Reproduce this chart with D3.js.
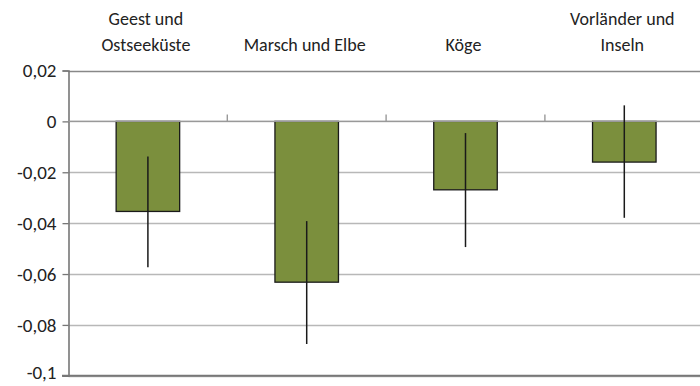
<!DOCTYPE html>
<html><head><meta charset="utf-8">
<script src="https://cdn.jsdelivr.net/npm/d3@7"></script>
<style>body{margin:0;background:#fff}svg{display:block}</style>
</head><body>
<script>
const categories = [["Geest und","Ostseeküste"],["Marsch und Elbe"],["Köge"],["Vorländer und","Inseln"]];
const values = [-0.0354, -0.0632, -0.0269, -0.0160];
const errLow = [-0.0573, -0.0875, -0.0494, -0.0379];
const errHigh = [-0.0138, -0.0392, -0.0046, 0.0063];
const yTicks = [0.02, 0, -0.02, -0.04, -0.06, -0.08, -0.1];
const yTickLabels = ["0,02", "0", "-0,02", "-0,04", "-0,06", "-0,08", "-0,1"];

const W = 700, H = 386;
const svg = d3.select("body").append("svg").attr("width", W).attr("height", H);
const font = "Carlito, Lato, 'Open Sans', sans-serif";

const y = d3.scaleLinear().domain([-0.1, 0.02]).range([375.8, 70.5]);
const x = d3.scaleBand().domain(d3.range(categories.length)).range([68.5, 703.7]).padding(0);

// gridlines
svg.append("g").selectAll("line").data(yTicks).join("line")
  .attr("x1", 68.5).attr("x2", W)
  .attr("y1", d => Math.round(y(d)) + 0.5).attr("y2", d => Math.round(y(d)) + 0.5)
  .attr("stroke", d => (d === 0.02 ? "#888" : "#b8b8b8")).attr("stroke-width", d => d === 0.02 ? 1.6 : 1.3);

// y axis
const yAxis = d3.axisLeft(y).tickValues(yTicks).tickSize(6).tickPadding(6)
  .tickFormat((d, i) => yTickLabels[i]);
const ga = svg.append("g").attr("transform", "translate(68.5,0)").call(yAxis);
ga.select(".domain").attr("stroke", "#777").attr("stroke-width", 1.6);
ga.selectAll(".tick line").attr("stroke", "#777").attr("stroke-width", 1.3);
ga.selectAll(".tick text").attr("font-family", font).attr("font-size", 19).attr("fill", "#222")
  .attr("dy", d => d === -0.1 ? "0.12em" : "0.32em");

// bottom axis line
svg.append("line").attr("x1", 62).attr("x2", W).attr("y1", y(-0.1)).attr("y2", y(-0.1))
  .attr("stroke", "#777").attr("stroke-width", 2);

// bars
const bw = x.bandwidth() * 0.4;
svg.append("g").selectAll("rect").data(values).join("rect")
  .attr("x", (d, i) => x(i) + x.bandwidth()/2 - bw/2)
  .attr("y", y(0))
  .attr("width", bw)
  .attr("height", d => y(d) - y(0))
  .attr("fill", "#7b8f3d").attr("stroke", "#1a1a1a").attr("stroke-width", 1.3);

// zero category axis line with upward ticks
svg.append("line").attr("x1", 68.5).attr("x2", W).attr("y1", y(0)).attr("y2", y(0))
  .attr("stroke", "#999").attr("stroke-width", 1.4);
svg.append("g").selectAll("line").data(d3.range(1, categories.length)).join("line")
  .attr("x1", i => x(i)).attr("x2", i => x(i))
  .attr("y1", y(0)).attr("y2", y(0) - 7)
  .attr("stroke", "#999").attr("stroke-width", 1.4);

// error bars
svg.append("g").selectAll("line").data(values).join("line")
  .attr("x1", (d, i) => x(i) + x.bandwidth()/2).attr("x2", (d, i) => x(i) + x.bandwidth()/2)
  .attr("y1", (d, i) => y(errHigh[i])).attr("y2", (d, i) => y(errLow[i]))
  .attr("stroke", "#1a1a1a").attr("stroke-width", 1.5);

// category labels at top
const lab = svg.append("g").selectAll("text").data(categories).join("text")
  .attr("text-anchor", "middle").attr("font-family", font).attr("font-size", 18).attr("fill", "#222");
lab.each(function(lines, i) {
  const t = d3.select(this);
  const cx = x(i) + x.bandwidth()/2 - 2;
  const baseY = 51 - (lines.length - 1) * 26;
  lines.forEach((l, k) => t.append("tspan").attr("x", cx).attr("y", baseY + k * 26).text(l));
});
</script>
</body></html>
